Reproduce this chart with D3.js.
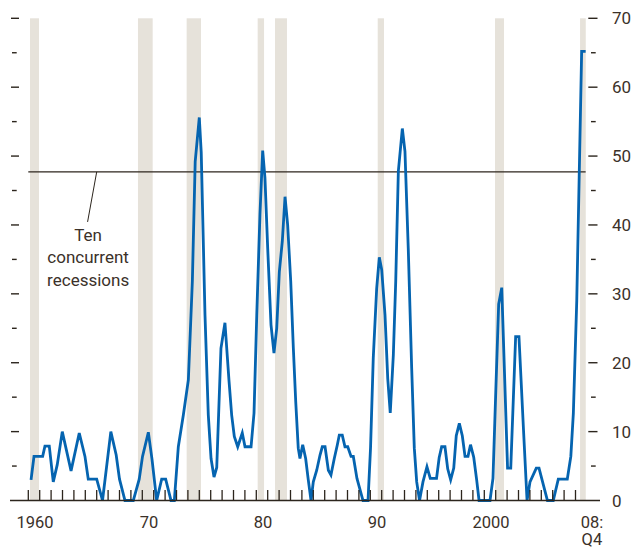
<!DOCTYPE html>
<html>
<head>
<meta charset="utf-8">
<script src="https://cdn.jsdelivr.net/npm/d3@7"></script>
<style>
  html, body { margin: 0; padding: 0; background: #ffffff; }
  svg { display: block; }
  text { font-family: Roboto, "Liberation Sans", Arial, sans-serif; fill: #3b3129; }
</style>
</head>
<body>
<svg id="chart" width="639" height="551"></svg>
<script>
// ---- data ----
const years = [1960.24, 1960.50, 1961.26, 1961.46, 1961.84, 1962.19, 1962.54, 1962.98, 1963.75, 1964.47,
  1964.97, 1965.26, 1966.00, 1966.51, 1967.24, 1967.71, 1968.00, 1968.48, 1969.21, 1969.73,
  1970.02, 1970.53, 1970.85, 1971.26, 1971.70, 1972.05, 1972.52, 1972.81, 1973.16, 1973.60,
  1974.04, 1974.39, 1974.64, 1975.00, 1975.17, 1975.50, 1975.79, 1976.03, 1976.29, 1976.53,
  1976.90, 1977.25, 1977.61, 1977.84, 1978.07, 1978.37, 1978.77, 1979.01, 1979.54, 1979.80,
  1980.04, 1980.32, 1980.56, 1980.76, 1981.00, 1981.29, 1981.55, 1981.79, 1982.02, 1982.28,
  1982.52, 1982.75, 1983.02, 1983.25, 1983.46, 1983.68, 1983.83, 1984.07, 1984.33, 1984.56,
  1984.80, 1985.00, 1985.30, 1985.59, 1985.79, 1986.03, 1986.32, 1986.55, 1986.84, 1987.11,
  1987.28, 1987.54, 1987.78, 1988.02, 1988.31, 1988.51, 1988.83, 1989.36, 1989.80, 1990.02,
  1990.26, 1990.56, 1990.79, 1991.00, 1991.29, 1991.53, 1991.75, 1992.02, 1992.23, 1992.46,
  1992.81, 1993.04, 1993.33, 1993.63, 1993.86, 1994.07, 1994.32, 1994.62, 1994.97, 1995.26,
  1995.81, 1996.04, 1996.26, 1996.55, 1996.79, 1997.05, 1997.32, 1997.54, 1997.81, 1998.07,
  1998.31, 1998.57, 1998.79, 1999.07, 1999.33, 1999.54, 2000.50, 2000.76, 2001.03, 2001.26,
  2001.53, 2002.04, 2002.32, 2002.75, 2003.04, 2003.44, 2003.75, 2004.01, 2004.56, 2004.80,
  2005.54, 2006.05, 2006.49, 2007.28, 2007.59, 2007.81, 2008.11, 2008.54, 2008.89];

const shares = [3.0, 6.4, 6.4, 7.9, 7.9, 2.7, 5.2, 10.0, 4.3, 9.8,
  6.4, 3.1, 3.1, 0, 10.0, 6.6, 3.1, 0, 0, 3.1,
  6.4, 9.9, 6.0, 0, 3.1, 3.1, 0, 0, 7.8, 12.4,
  17.5, 31.8, 49.2, 55.6, 50.5, 26.9, 12.4, 6.1, 3.4, 4.8,
  22.1, 25.8, 17.3, 12.4, 9.3, 7.8, 9.8, 7.8, 7.8, 12.7,
  26.9, 41.5, 50.8, 46.8, 36.6, 25.5, 21.4, 25.0, 33.2, 37.6,
  44.1, 40.0, 31.8, 22.1, 14.3, 7.6, 6.1, 8.1, 6.1, 3.0,
  0, 2.7, 4.4, 6.6, 7.8, 7.8, 4.4, 3.7, 6.1, 8.1,
  9.5, 9.5, 7.8, 7.8, 6.4, 6.4, 3.2, 0, 0, 7.6,
  20.7, 30.8, 35.3, 33.5, 26.9, 17.7, 12.7, 21.1, 31.8, 47.8,
  54.0, 50.7, 36.6, 19.2, 7.6, 2.7, 0, 2.7, 4.9, 3.2,
  3.2, 6.2, 7.8, 7.8, 4.6, 3.0, 4.7, 9.4, 11.2, 9.4,
  6.4, 6.4, 8.1, 6.3, 3.0, 0, 0, 3.2, 17.0, 28.5,
  30.9, 4.7, 4.7, 23.8, 23.8, 10.2, 0, 2.7, 4.7, 4.7,
  0, 0, 3.1, 3.1, 6.4, 12.6, 29.0, 65.2, 65.2];

// US recession shading (start, end in decimal years)
const recessionStart = [1960.15, 1969.62, 1973.89, 1980.12, 1981.64, 1990.65, 2000.94, 2008.40];
const recessionEnd   = [1960.94, 1970.91, 1975.15, 1980.68, 1982.69, 1991.20, 2001.73, 2008.90];

const thresholdValue = 47.7;   // "Ten concurrent recessions"
const thresholdLabel = ["Ten", "concurrent", "recessions"];

const yTickValues = [0, 5, 10, 15, 20, 25, 30, 35, 40, 45, 50, 55, 60, 65, 70];
const yLabelValues = [0, 10, 20, 30, 40, 50, 60, 70];
const xTickYears = d3.range(1960, 2009);
const xLabelYears = [1960, 1970, 1980, 1990, 2000];
const xLabelTexts = ["1960", "70", "80", "90", "2000"];
const lastLabel = ["08:", "Q4"];

// ---- drawing ----
const svg = d3.select("#chart");
const ink = "#2c251d";
const blue = "#0564b0";
const shade = "#e6e2da";

const x = d3.scaleLinear().domain([1960, 2009]).range([28.3, 586.9]);
const y = d3.scaleLinear().domain([0, 70]).range([500.5, 18.3]);

// recession bars
svg.append("g").selectAll("rect")
  .data(recessionStart.map((s, i) => [s, recessionEnd[i]]))
  .join("rect")
  .attr("x", d => x(d[0]))
  .attr("width", d => x(d[1]) - x(d[0]))
  .attr("y", y(70))
  .attr("height", y(0) - y(70))
  .attr("fill", shade);

// threshold line
svg.append("line")
  .attr("x1", x(1960)).attr("x2", x(years[years.length - 1]))
  .attr("y1", y(thresholdValue)).attr("y2", y(thresholdValue))
  .attr("stroke", ink).attr("stroke-width", 1.2);

// annotation leader + text
const labelX = x(1965.25);
svg.append("line")
  .attr("x1", x(1966.0)).attr("y1", y(thresholdValue))
  .attr("x2", x(1965.2)).attr("y2", y(thresholdValue) + 50)
  .attr("stroke", ink).attr("stroke-width", 1);
svg.append("g").selectAll("text")
  .data(thresholdLabel)
  .join("text")
  .attr("x", labelX)
  .attr("y", (d, i) => 240.5 + i * 22.6)
  .attr("text-anchor", "middle")
  .attr("font-size", 17)
  .text(d => d);

// series line
const line = d3.line()
  .x((d, i) => x(years[i]))
  .y(d => y(d));
svg.append("path")
  .datum(shares)
  .attr("d", line)
  .attr("fill", "none")
  .attr("stroke", blue)
  .attr("stroke-width", 2.8)
  .attr("stroke-linejoin", "miter")
  .attr("stroke-miterlimit", 4);

// baseline
svg.append("line")
  .attr("x1", 10).attr("x2", 600)
  .attr("y1", y(0)).attr("y2", y(0))
  .attr("stroke", ink).attr("stroke-width", 1.5);

// x ticks (yearly)
svg.append("g").selectAll("line")
  .data(xTickYears)
  .join("line")
  .attr("x1", d => x(d)).attr("x2", d => x(d))
  .attr("y1", y(0)).attr("y2", y(0) - 10.5)
  .attr("stroke", ink).attr("stroke-width", 1.3);

// x labels
svg.append("g").selectAll("text")
  .data(xLabelYears)
  .join("text")
  .attr("x", d => x(d + 0.5) + 1)
  .attr("y", 527.5)
  .attr("text-anchor", "middle")
  .attr("font-size", 16.5)
  .text((d, i) => xLabelTexts[i]);
svg.append("g").selectAll("text")
  .data(lastLabel)
  .join("text")
  .attr("x", x(2009) + 5)
  .attr("y", (d, i) => 527.5 + i * 17.5)
  .attr("text-anchor", "middle")
  .attr("font-size", 16.5)
  .text(d => d);

// left ticks
svg.append("g").selectAll("line")
  .data(yTickValues.filter(v => v > 0))
  .join("line")
  .attr("x1", d => d % 10 === 0 ? 11 : 12)
  .attr("x2", d => d % 10 === 0 ? 19 : 16.7)
  .attr("y1", d => y(d)).attr("y2", d => y(d))
  .attr("stroke", ink).attr("stroke-width", 1.4);

// right ticks
svg.append("g").selectAll("line")
  .data(yTickValues.filter(v => v > 0))
  .join("line")
  .attr("x1", d => d % 10 === 0 ? 588.3 : 591)
  .attr("x2", d => d % 10 === 0 ? 597.5 : 595.7)
  .attr("y1", d => y(d)).attr("y2", d => y(d))
  .attr("stroke", ink).attr("stroke-width", 1.4);

// right labels
svg.append("g").selectAll("text")
  .data(yLabelValues)
  .join("text")
  .attr("x", 612)
  .attr("y", d => y(d) + 6)
  .attr("text-anchor", "start")
  .attr("font-size", 17)
  .text(d => d);
</script>
</body>
</html>
